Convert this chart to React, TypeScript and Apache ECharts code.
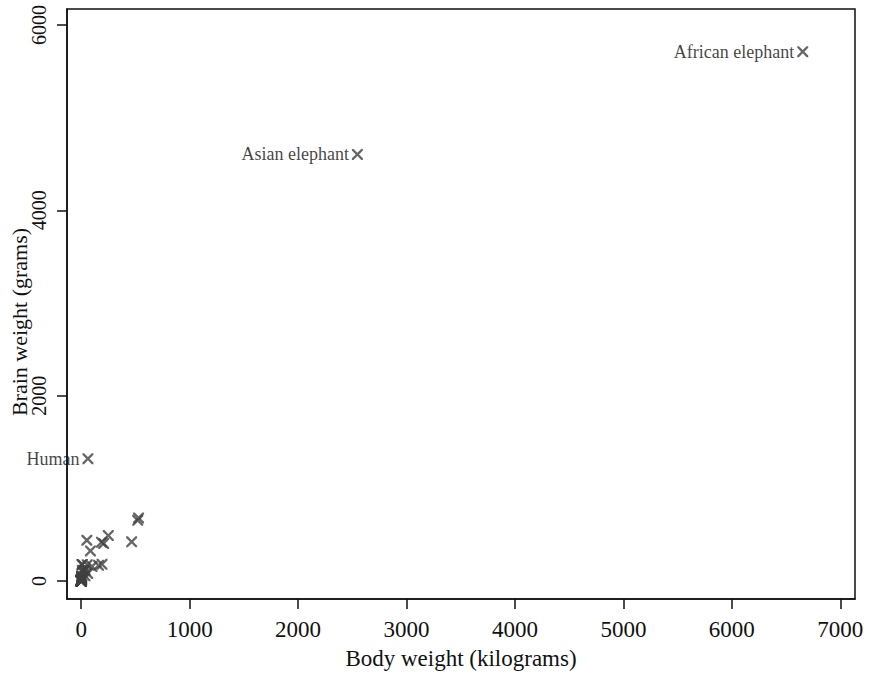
import React, { useEffect, useRef } from "react";
import * as echarts from "echarts";

const species = [
  "African elephant", "African giant pouched rat", "Arctic fox", "Arctic ground squirrel", "Asian elephant",
  "Baboon", "Big brown bat", "Brazilian tapir", "Cat", "Chimpanzee", "Chinchilla", "Cow", "Desert hedgehog",
  "Donkey", "Eastern American mole", "Echidna", "European hedgehog", "Galago", "Genet", "Giant armadillo",
  "Giraffe", "Goat", "Golden hamster", "Gorilla", "Gray seal", "Gray wolf", "Ground squirrel", "Guinea pig",
  "Horse", "Jaguar", "Kangaroo", "Lesser short-tailed shrew", "Little brown bat", "Human", "Mole rat",
  "Mountain beaver", "Mouse", "Musk shrew", "N. American opossum", "Nine-banded armadillo", "Okapi",
  "Owl monkey", "Patas monkey", "Phalanger", "Pig", "Rabbit", "Raccoon", "Rat", "Red fox", "Rhesus monkey",
  "Rock hyrax (Hetero. b)", "Rock hyrax (Procavia hab)", "Roe deer", "Sheep", "Slow loris", "Star nosed mole",
  "Tenrec", "Tree hyrax", "Tree shrew", "Vervet", "Water opossum", "Yellow-bellied marmot",
];

const bodyKg = [
  6654, 1, 3.385, 0.92, 2547, 10.55, 0.023, 160, 3.3, 52.16, 0.425, 465, 0.55, 187.1, 0.075, 3, 0.785, 0.2,
  1.41, 60, 529, 27.66, 0.12, 207, 85, 36.33, 0.101, 1.04, 521, 100, 35, 0.005, 0.01, 62, 0.122, 1.35, 0.023,
  0.048, 1.7, 3.5, 250, 0.48, 10, 1.62, 192, 2.5, 4.288, 0.28, 4.235, 6.8, 0.75, 3.6, 14.83, 55.5, 1.4, 0.06,
  0.9, 2, 0.104, 4.19, 3.5, 4.05,
];

const brainG = [
  5712, 6.6, 44.5, 5.7, 4603, 179.5, 0.3, 169, 25.6, 440, 6.4, 423, 2.4, 419, 1.2, 25, 3.5, 5, 17.5, 81, 680,
  115, 1, 406, 325, 119.5, 4, 5.5, 655, 157, 56, 0.14, 0.25, 1320, 3, 8.1, 0.4, 0.33, 6.3, 10.8, 490, 15.5, 115,
  11.4, 180, 12.1, 39.2, 1.9, 50.4, 179, 12.3, 21, 98.2, 175, 12.5, 1, 2.6, 12.3, 2.5, 58, 3.9, 17,
];

const labelled = ["African elephant", "Asian elephant", "Human"];

const xTicks = [0, 1000, 2000, 3000, 4000, 5000, 6000, 7000];
const yTicks = [0, 2000, 4000, 6000];

const xTitle = "Body weight (kilograms)";
const yTitle = "Brain weight (grams)";

const FONT = "'Liberation Serif', 'Times New Roman', serif";
const X_SYMBOL =
  "path://M0,0L1.5,0L5,3.5L8.5,0L10,0L10,1.5L6.5,5L10,8.5L10,10L8.5,10L5,6.5L1.5,10L0,10L0,8.5L3.5,5L0,1.5Z";

export default function App() {
  const ref = useRef<HTMLDivElement>(null);
  useEffect(() => {
    if (!ref.current) return;
    const chart = echarts.init(ref.current, undefined, { renderer: "svg" });
    const data = species.map((name, i) => ({
      name,
      value: [bodyKg[i], brainG[i]],
      label: { show: labelled.includes(name) },
    }));
    chart.setOption({
      animation: false,
      backgroundColor: "#ffffff",
      grid: {
        left: 67,
        right: 14,
        top: 9,
        bottom: 74,
        show: true,
        borderColor: "#111",
        borderWidth: 1.5,
      },
      graphic: [
        {
          type: "text",
          x: 19,
          y: 322,
          rotation: Math.PI / 2,
          style: {
            text: yTitle,
            fontFamily: FONT,
            fontSize: 22,
            fill: "#111",
            align: "center",
            verticalAlign: "middle",
          },
        },
      ],
      xAxis: {
        type: "value",
        min: -131,
        max: 7136,
        name: xTitle,
        nameLocation: "middle",
        nameGap: 48,
        nameTextStyle: { fontFamily: FONT, fontSize: 23, color: "#111" },
        axisLine: { show: true, onZero: false, lineStyle: { color: "#111", width: 1.5 } },
        axisTick: { show: true, length: 10, customValues: xTicks, lineStyle: { color: "#111", width: 1.5 } },
        axisLabel: {
          customValues: xTicks,
          formatter: (v: number) => String(v),
          fontFamily: FONT,
          fontSize: 23,
          color: "#111",
          margin: 19,
        },
        splitLine: { show: false },
      },
      yAxis: {
        type: "value",
        min: -194,
        max: 6172,
        axisLine: { show: true, onZero: false, lineStyle: { color: "#111", width: 1.5 } },
        axisTick: { show: true, length: 10, customValues: yTicks, lineStyle: { color: "#111", width: 1.5 } },
        axisLabel: {
          customValues: yTicks,
          formatter: (v: number) => String(v),
          rotate: 90,
          fontFamily: FONT,
          fontSize: 20,
          color: "#111",
          margin: 18,
        },
        splitLine: { show: false },
      },
      series: [
        {
          type: "scatter",
          symbol: X_SYMBOL,
          symbolSize: 11,
          itemStyle: { color: "#404040" },
          label: {
            position: "left",
            distance: 3,
            formatter: "{b}",
            fontFamily: FONT,
            fontSize: 18,
            color: "#111",
          },
          data,
        },
      ],
    });
    return () => chart.dispose();
  }, []);
  return (
    <div
      ref={ref}
      style={{ position: "fixed", left: 0, top: 0, width: 869, height: 675, background: "#fff" }}
    />
  );
}
